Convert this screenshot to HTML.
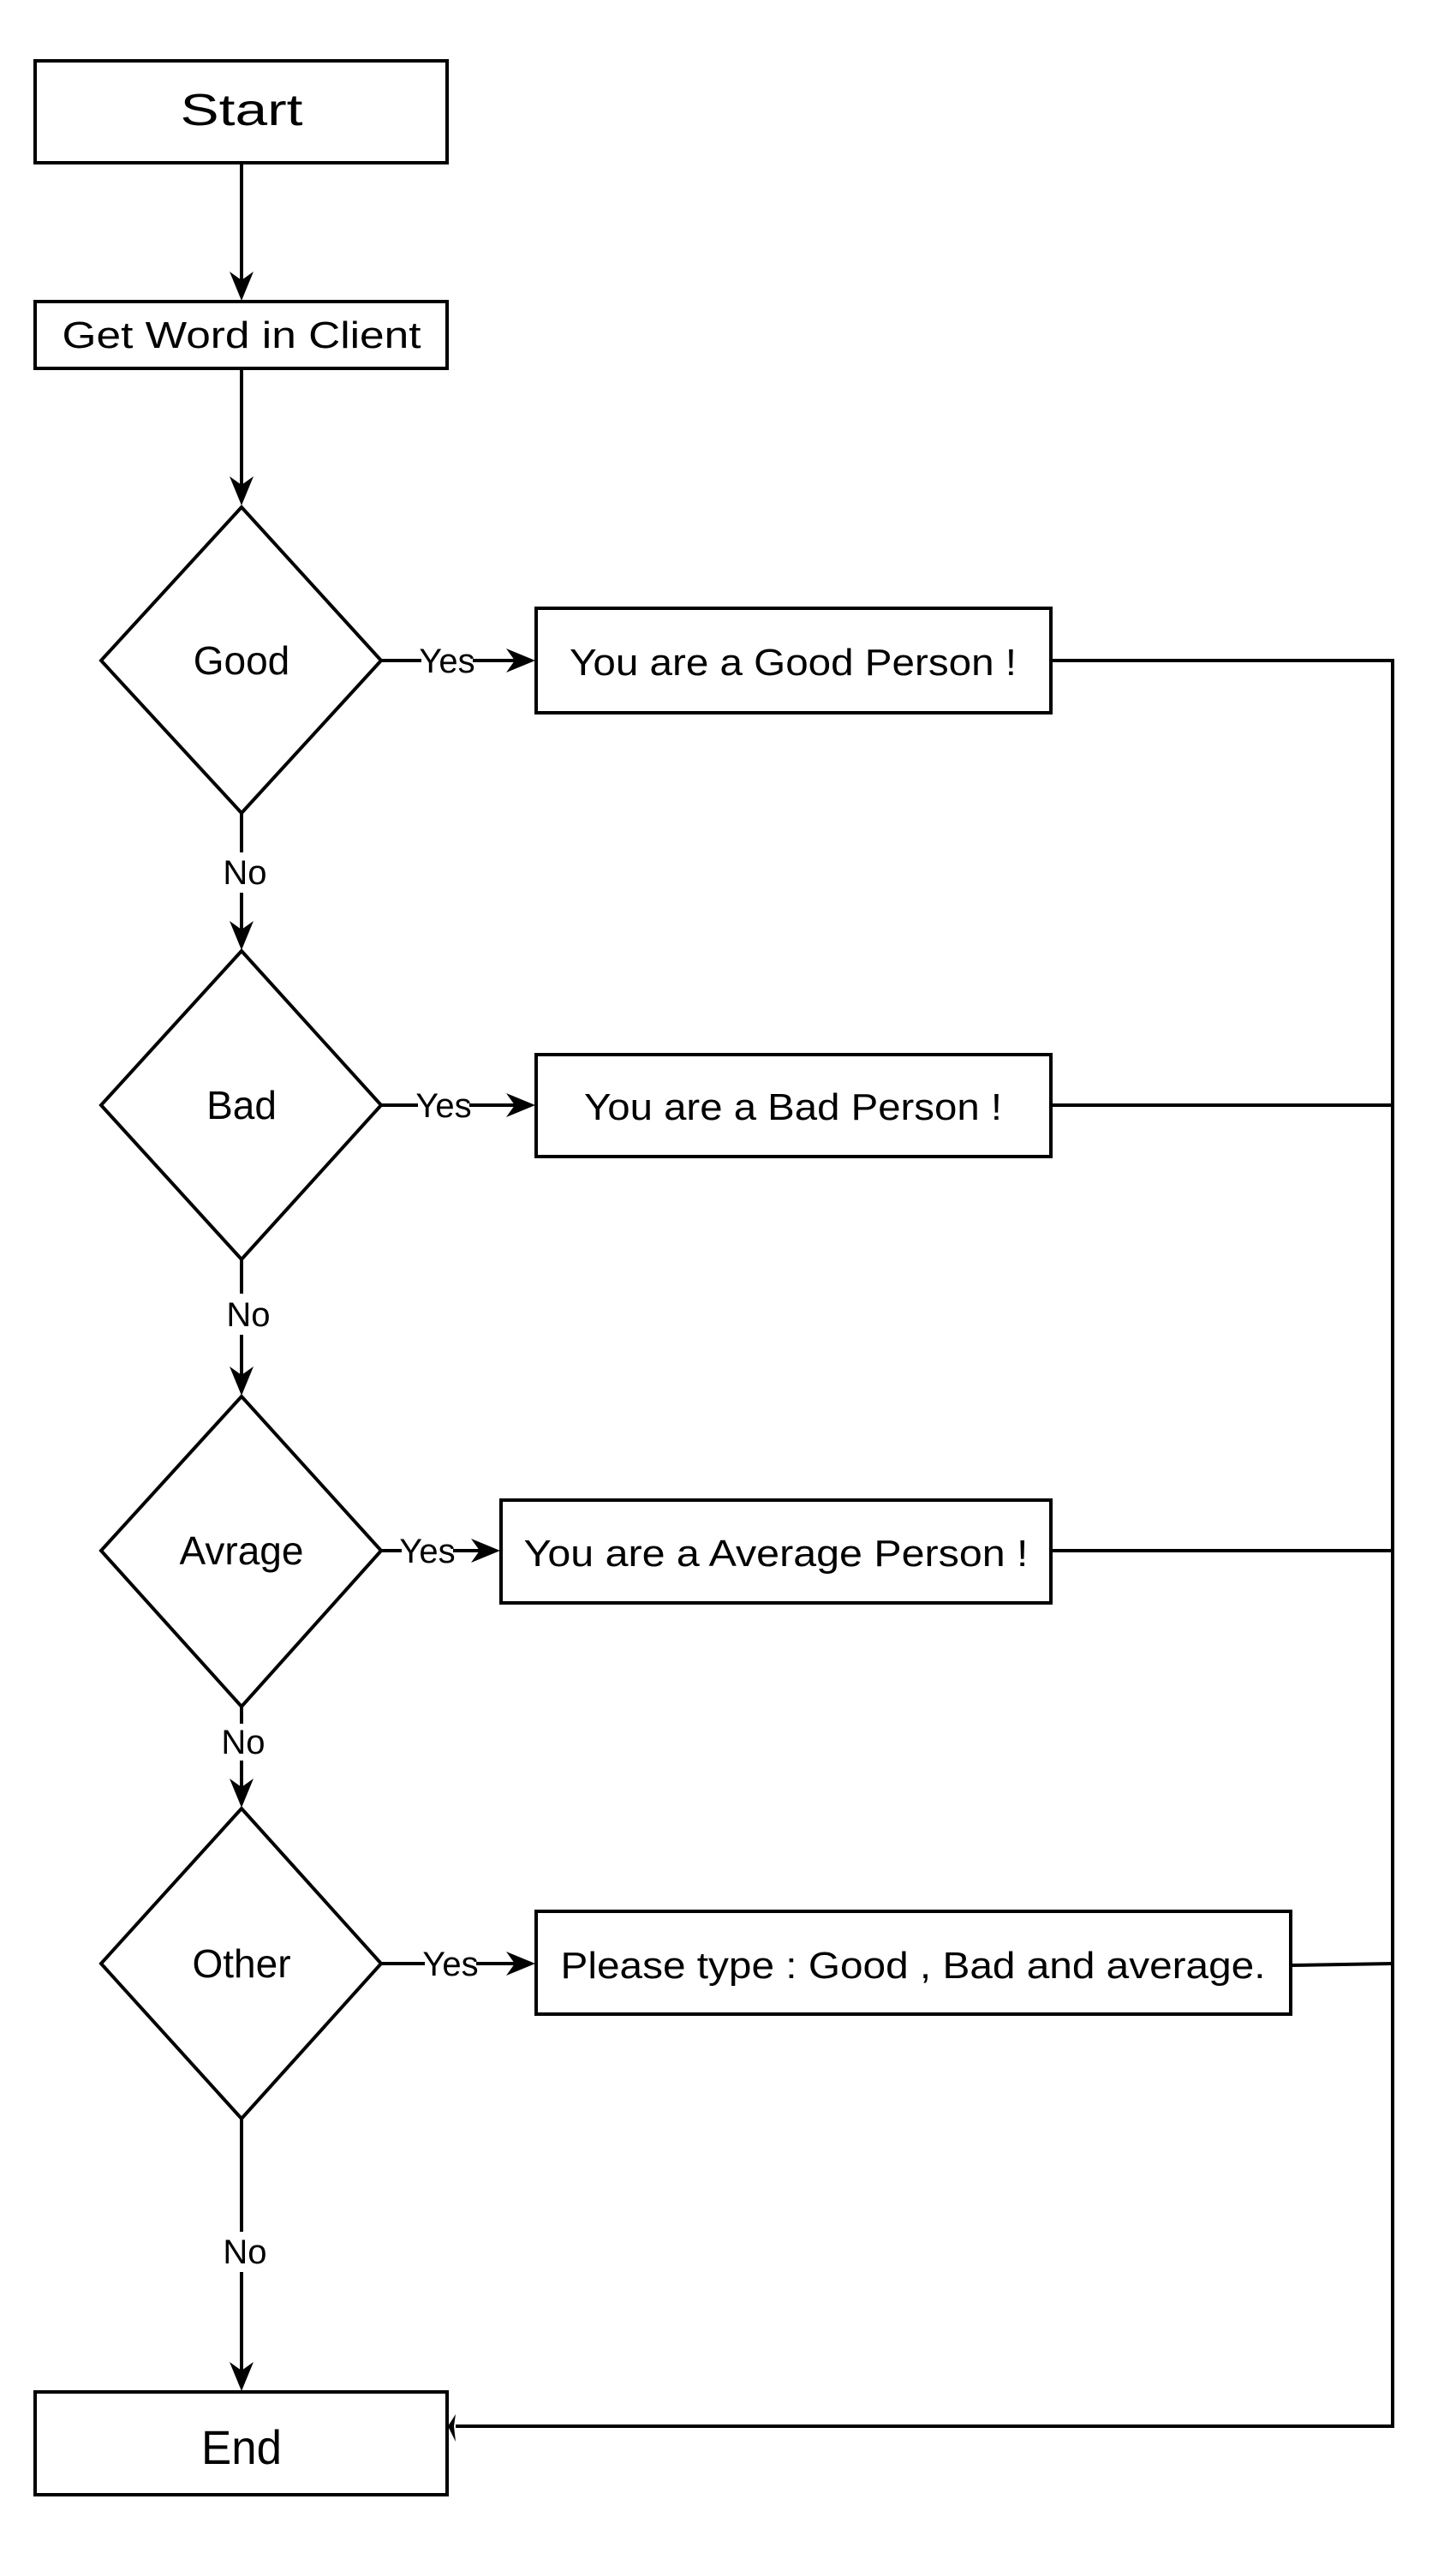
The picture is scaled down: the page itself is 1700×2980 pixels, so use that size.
<!DOCTYPE html>
<html><head><meta charset="utf-8"><style>
html,body{margin:0;padding:0;background:#fff}
svg{display:block}
.c{font-family:"Liberation Sans",sans-serif;}
</style></head><body>
<svg width="1700" height="2980" viewBox="0 0 1700 2980" xmlns="http://www.w3.org/2000/svg">
<g fill="none" stroke="#000" stroke-width="4">
<rect x="41" y="71" width="481" height="119"/>
<rect x="41" y="352" width="481" height="78"/>
<polygon points="282,592 445,771 282,949 118,771"/>
<polygon points="282,1110 445,1290 282,1470 118,1290"/>
<polygon points="282,1630 445,1810 282,1992 118,1810"/>
<polygon points="282,2111 445,2292 282,2473 118,2292"/>
<rect x="626" y="710" width="601" height="122"/>
<rect x="626" y="1231" width="601" height="119"/>
<rect x="585" y="1751" width="642" height="120"/>
<rect x="626" y="2231" width="881" height="120"/>
<rect x="41" y="2792" width="481" height="120"/>
<line x1="282" y1="190" x2="282" y2="330"/>
<line x1="282" y1="430" x2="282" y2="570"/>
<line x1="282" y1="949" x2="282" y2="995"/>
<line x1="282" y1="1042" x2="282" y2="1090"/>
<line x1="282" y1="1470" x2="282" y2="1510"/>
<line x1="282" y1="1558" x2="282" y2="1610"/>
<line x1="282" y1="1992" x2="282" y2="2012"/>
<line x1="282" y1="2055" x2="282" y2="2090"/>
<line x1="282" y1="2473" x2="282" y2="2605"/>
<line x1="282" y1="2652" x2="282" y2="2770"/>
<line x1="445" y1="771" x2="492" y2="771"/><line x1="552" y1="771" x2="604" y2="771"/>
<line x1="445" y1="1290" x2="488" y2="1290"/><line x1="548" y1="1290" x2="604" y2="1290"/>
<line x1="445" y1="1810" x2="469" y2="1810"/><line x1="529" y1="1810" x2="563" y2="1810"/>
<line x1="445" y1="2292" x2="496" y2="2292"/><line x1="556" y1="2292" x2="604" y2="2292"/>
<polyline points="1227,771 1626,771 1626,2832 532,2832"/>
<line x1="1227" y1="1290" x2="1626" y2="1290"/>
<line x1="1227" y1="1810" x2="1626" y2="1810"/>
<line x1="1507" y1="2294" x2="1626" y2="2292"/>
</g>
<g fill="#000">
<polygon points="282,351 268,317 282,327 296,317"/>
<polygon points="282,590 268,556 282,566 296,556"/>
<polygon points="282,1109 268,1075 282,1085 296,1075"/>
<polygon points="282,1629 268,1595 282,1605 296,1595"/>
<polygon points="282,2110 268,2076 282,2086 296,2076"/>
<polygon points="282,2791 268,2757 282,2767 296,2757"/>
<polygon points="625,771 591,757 601,771 591,785"/>
<polygon points="625,1290 591,1276 601,1290 591,1304"/>
<polygon points="584,1810 550,1796 560,1810 550,1824"/>
<polygon points="625,2292 591,2278 601,2292 591,2306"/>
<polygon points="523,2832 532,2818 530,2832 532,2850"/>
</g>
<g class="c" fill="#000" text-anchor="middle">
<text x="282" y="146" font-size="52" textLength="143" lengthAdjust="spacingAndGlyphs">Start</text>
<text x="282" y="406" font-size="44" textLength="419" lengthAdjust="spacingAndGlyphs">Get Word in Client</text>
<text x="282" y="2876" font-size="56" textLength="94" lengthAdjust="spacingAndGlyphs">End</text>
<text x="926" y="788" font-size="44" textLength="522" lengthAdjust="spacingAndGlyphs">You are a Good Person !</text>
<text x="926" y="1307" font-size="44" textLength="488" lengthAdjust="spacingAndGlyphs">You are a Bad Person !</text>
<text x="906" y="1828" font-size="44" textLength="589" lengthAdjust="spacingAndGlyphs">You are a Average Person !</text>
<text x="1066" y="2309" font-size="44" textLength="823" lengthAdjust="spacingAndGlyphs">Please type : Good , Bad and average.</text>
<text x="282" y="787" font-size="46">Good</text>
<text x="282" y="1306" font-size="46">Bad</text>
<text x="282" y="1826" font-size="46">Avrage</text>
<text x="282" y="2308" font-size="46">Other</text>
<text x="522" y="785" font-size="40">Yes</text>
<text x="518" y="1304" font-size="40">Yes</text>
<text x="499" y="1824" font-size="40">Yes</text>
<text x="526" y="2306" font-size="40">Yes</text>
<text x="286" y="1032" font-size="40">No</text>
<text x="290" y="1548" font-size="40">No</text>
<text x="284" y="2047" font-size="40">No</text>
<text x="286" y="2642" font-size="40">No</text>
</g>
</svg>
</body></html>
